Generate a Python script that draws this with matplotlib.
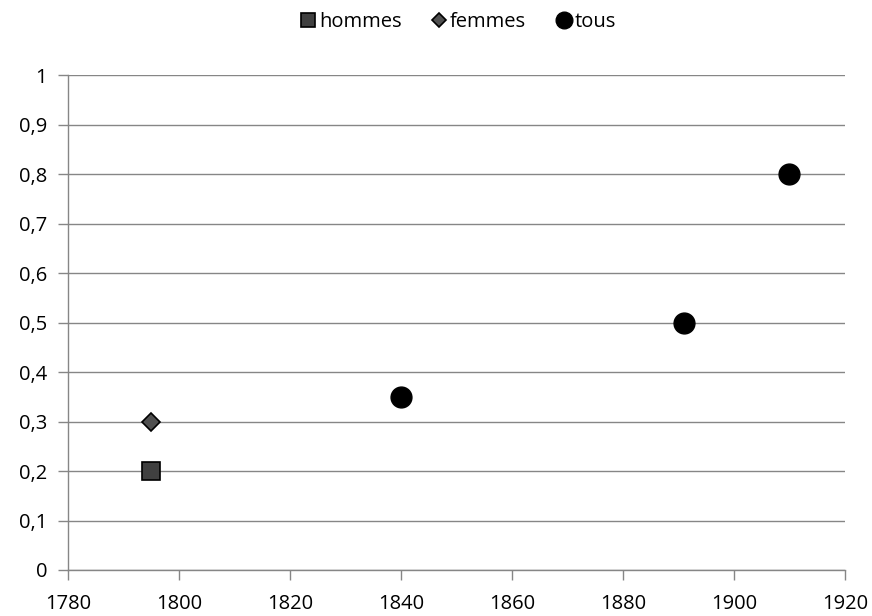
import matplotlib
matplotlib.use('Agg')
import matplotlib.pyplot as plt
from matplotlib.ticker import FuncFormatter

plt.rcParams.update({'font.family': ['Open Sans', 'DejaVu Sans'], 'font.size': 14.5})

hommes_x = [1795]
hommes_y = [0.2]
femmes_x = [1795]
femmes_y = [0.3]
tous_x = [1840, 1891, 1910]
tous_y = [0.35, 0.5, 0.8]

fig = plt.figure(figsize=(8.72, 6.16), dpi=100)
ax = fig.add_axes([0.078, 0.0747, 0.891, 0.803])

grid_c = '#868686'
ax.plot(hommes_x, hommes_y, 's', ms=13, mfc='#404040', mec='black', mew=1.2, label='hommes', zorder=5)
ax.plot(femmes_x, femmes_y, 'D', ms=9, mfc='#505050', mec='black', mew=1.2, label='femmes', zorder=5)
ax.plot(tous_x, tous_y, 'o', ms=15, mfc='black', mec='black', label='tous', zorder=5)

ax.set_xlim(1780, 1920)
ax.set_ylim(0, 1)
ax.set_xticks(range(1780, 1921, 20))
ax.set_yticks([i / 10 for i in range(11)])
ax.yaxis.set_major_formatter(FuncFormatter(lambda v, p: ('%g' % round(v, 1)).replace('.', ',')))
ax.grid(axis='y', color=grid_c, linewidth=1)
ax.set_axisbelow(True)
for s in ['top', 'right']:
    ax.spines[s].set_visible(False)
for s in ['left', 'bottom']:
    ax.spines[s].set_color(grid_c)
    ax.spines[s].set_linewidth(1)
ax.tick_params(color=grid_c, length=7, width=1)
ax.tick_params(axis='x', pad=10)
ax.tick_params(axis='y', pad=8)

ax.legend(loc='lower center', bbox_to_anchor=(0.5, 1.06), ncol=3, frameon=False,
          handletextpad=0.0, columnspacing=1.3, handlelength=1.1, fontsize=14.5,
          markerscale=0.8, borderpad=0.2)

fig.savefig('out.png', dpi=100, facecolor='white')
